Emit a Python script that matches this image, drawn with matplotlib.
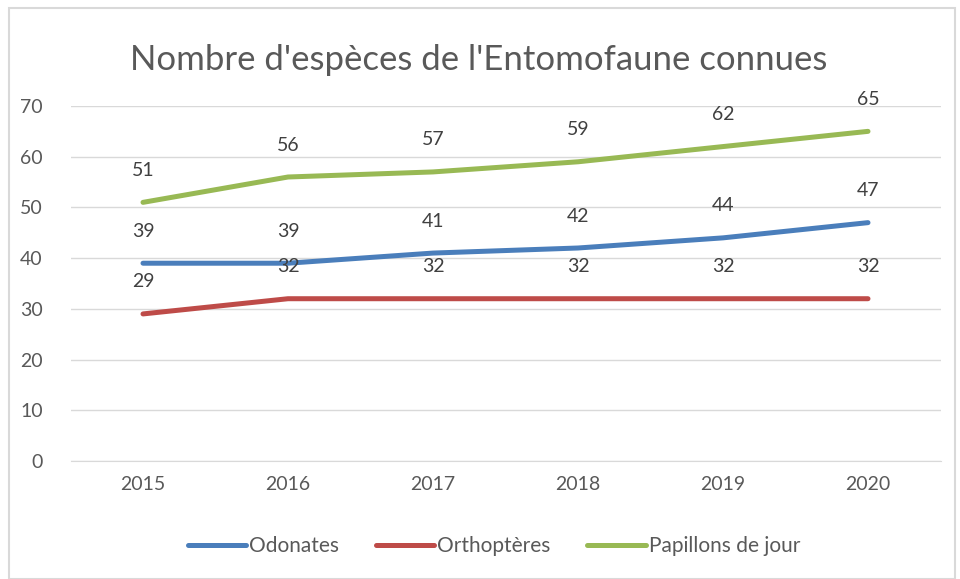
import matplotlib
matplotlib.use("Agg")
import matplotlib.pyplot as plt
from matplotlib.patches import Rectangle

years = ["2015", "2016", "2017", "2018", "2019", "2020"]
odonates = [39, 39, 41, 42, 44, 47]
orthopteres = [29, 32, 32, 32, 32, 32]
papillons = [51, 56, 57, 59, 62, 65]
series_names = ["Odonates", "Orthoptères", "Papillons de jour"]
colors = ["#4A7EBB", "#BE4B48", "#98B954"]
yticks = [0, 10, 20, 30, 40, 50, 60, 70]

plt.rcParams['font.family'] = ['Lato', 'DejaVu Sans']
txt = "#595959"

fig = plt.figure(figsize=(9.6, 5.79), dpi=100)
ax = fig.add_axes([70.5/960, 1-461/579, 870/960, 355/579])
x = list(range(len(years)))
for vals, name, c in zip([odonates, orthopteres, papillons], series_names, colors):
    ax.plot(x, vals, color=c, lw=3.6, solid_capstyle='round', label=name, zorder=3)
    for xi, v in zip(x, vals):
        ax.annotate(str(v), (xi, v), xytext=(0, 23), textcoords='offset points',
                    ha='center', va='center', fontsize=14, color="#404040", zorder=4)

ax.set_xlim(-0.5, 5.5)
ax.set_ylim(0, 70)
ax.set_yticks(yticks)
ax.set_xticks(x)
ax.set_xticklabels(years)
ax.grid(axis='y', color="#D9D9D9", lw=1)
ax.set_axisbelow(True)
for s in ['top', 'right', 'left']:
    ax.spines[s].set_visible(False)
ax.spines['bottom'].set_color("#D9D9D9")
ax.tick_params(length=0, labelsize=14, labelcolor=txt)
ax.tick_params(axis='y', pad=20)
ax.tick_params(axis='x', pad=11)

fig.text(479/960, 1-60/579, "Nombre d'espèces de l'Entomofaune connues", ha='center', va='center',
         fontsize=25, color=txt)

leg = fig.legend(loc='center', bbox_to_anchor=(494/960, 1-546/579), ncol=3, frameon=False,
                 fontsize=15, handlelength=2.8, handletextpad=0.15, columnspacing=1.75, labelcolor=txt)

fig.patches.append(Rectangle((9/960, 0), 946/960, 1-8/579, transform=fig.transFigure,
                             fill=False, edgecolor="#D9D9D9", lw=1.5))
fig.savefig("out.png", dpi=100)
